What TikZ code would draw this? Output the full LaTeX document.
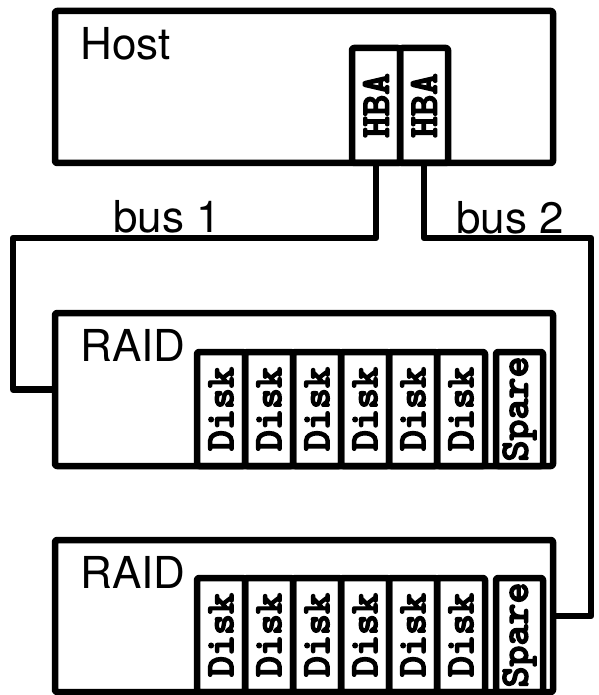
\documentclass[tikz,border=0pt]{standalone}
\usepackage{fontspec}
\setmainfont{TeX Gyre Heros}
\newfontfamily\slotfont[FakeBold=3.5]{lmmonolt10-bold.otf}
\usetikzlibrary{positioning}

\begin{document}
\begin{tikzpicture}[x=1pt,y=-1pt,line width=6.5pt,line join=round]
  \tikzset{unit/.style={draw,rounded corners=2pt,inner sep=0pt,outer sep=0pt},
    title/.style={anchor=base west,inner sep=0pt,font=\fontsize{44}{48}\selectfont},
    buslabel/.style={anchor=base,inner sep=0pt,font=\fontsize{44}{48}\selectfont},
    slot/.style={unit,rotate=90,minimum width=114pt,minimum height=48pt,font=\fontsize{40}{44}\slotfont}}
  \useasboundingbox (0,0) rectangle (598,695);
  \node[unit,minimum width=498pt,minimum height=152pt] (host) at (304,87) {};
  \node[title] (hostname) at (77,60) {Host};
  \node[slot,minimum width=115pt,font=\fontsize{41}{44}\slotfont] (hba1) at (376,105.5) {HBA};
  \node[slot,minimum width=115pt,font=\fontsize{41}{44}\slotfont] (hba2) at (424,105.5) {HBA};
  \node[unit,minimum width=498pt,minimum height=153pt] (raid1) at (304,389.5) {};
  \node[title] (raidname1) at (77,361) {RAID};
  \node[unit,minimum width=498pt,minimum height=152pt] (raid2) at (304,616) {};
  \node[title] (raidname2) at (77,588) {RAID};
  \foreach \r/\y in {1/409,2/635} {
    \foreach \i in {0,...,5}
      \node[slot] (disk\r\i) at ({221+48*\i},\y) {Disk};
    \node[slot,minimum height=47pt] (spare\r) at (519.5,\y) {Spare};
  }
  \coordinate (bend1) at (13,238);
  \coordinate (bend2) at (591,238);
  \draw (hba1 |- host.south) |- (bend1) |- (raid1.west);
  \draw (hba2 |- host.south) |- (bend2) |- (raid2.east);
  \node[buslabel] (bus1) at (167,232) {bus 1};
  \node[buslabel] (bus2) at (510,233) {bus 2};
\end{tikzpicture}
\end{document}
